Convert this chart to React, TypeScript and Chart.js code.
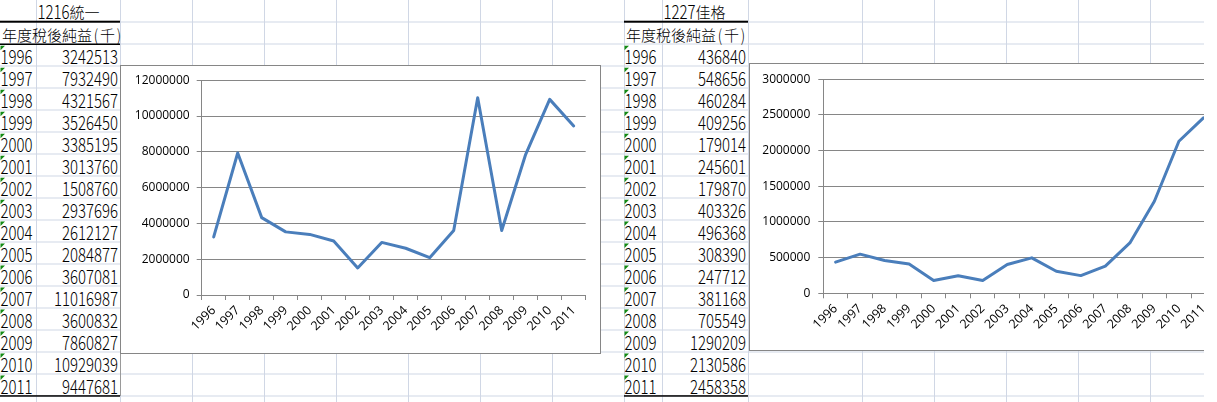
import React, { useEffect, useRef } from 'react';
import { Chart, registerables } from 'chart.js';

Chart.register(...registerables);

// ---------- data ----------
const years = ['1996', '1997', '1998', '1999', '2000', '2001', '2002', '2003', '2004', '2005', '2006', '2007', '2008', '2009', '2010', '2011'];
const uniTitle = '1216統一';
const jiaTitle = '1227佳格';
const headerLabel = '年度稅後純益(千)';
const uniValues = [3242513, 7932490, 4321567, 3526450, 3385195, 3013760, 1508760, 2937696, 2612127, 2084877, 3607081, 11016987, 3600832, 7860827, 10929039, 9447681];
const jiaValues = [436840, 548656, 460284, 409256, 179014, 245601, 179870, 403326, 496368, 308390, 247712, 381168, 705549, 1290209, 2130586, 2458358];
const uniYTicks = [0, 2000000, 4000000, 6000000, 8000000, 10000000, 12000000];
const jiaYTicks = [0, 500000, 1000000, 1500000, 2000000, 2500000, 3000000];

// ---------- layout / style ----------
const W = 1217;
const H = 402;
const GRID = '#d0d7e5';
const AXIS = '#868686';
const LINE = '#4a7ebb';
const GREEN = '#138a13';
const rowLine = (k: number) => 22.3 + 21.98 * k; // k = 0 -> bottom of title row
const colLines = [36, 120, 192, 264, 336, 408, 480, 552, 624, 662, 748, 862, 934, 1006, 1078, 1150];

function renderText(x: number, base: number, text: string, keyBase: string) {
  const els: React.ReactNode[] = [];
  let cx = x;
  const runs = text.match(/[0-9]+|[\x00-\x7f]|[^\x00-\x7f]+/g) || [];
  runs.forEach((run, i) => {
    const key = keyBase + '-' + i;
    if (/^[0-9]/.test(run)) {
      const w = 8 * run.length;
      els.push(
        <text key={key} transform={`translate(${cx},${base}) scale(1,1.36)`} x={0} y={0}
          fontFamily="Noto Sans CJK TC" fontWeight={300} fontSize={14} textLength={w} lengthAdjust="spacingAndGlyphs" fill="#000">{run}</text>
      );
      cx += w;
    } else if (/^[\x00-\x7f]/.test(run)) {
      els.push(
        <text key={key} transform={`translate(${cx + 4},${base}) scale(1,1.2)`} x={0} y={0} textAnchor="middle"
          fontFamily="Noto Sans CJK TC" fontWeight={300} fontSize={14} fill="#000">{run}</text>
      );
      cx += 8;
    } else {
      els.push(
        <text key={key} x={cx} y={base - 1} fontFamily="Noto Sans CJK TC" fontWeight={300} fontSize={15} fill="#000">{run}</text>
      );
      cx += 15 * run.length;
    }
  });
  return els;
}

function renderTable(left: number, colW: number, right: number, title: string, values: number[], headerBorder: boolean, key: string) {
  const els: React.ReactNode[] = [];
  els.push(...renderText(left + colW + 1.5, 19, title, key + 't'));
  els.push(...renderText(left + 2, 41.5, headerLabel, key + 'h'));
  els.push(<rect key={key + 'b1'} x={left} y={20.7} width={right - left} height={2} fill="#000" />);
  if (headerBorder) els.push(<rect key={key + 'b2'} x={left} y={43.5} width={right - left} height={1.5} fill="#000" />);
  els.push(<rect key={key + 'b3'} x={left} y={395.2} width={right - left} height={1.5} fill="#000" />);
  years.forEach((y, i) => {
    const top = rowLine(i + 1);
    const bottom = rowLine(i + 2);
    els.push(<polygon key={key + 'g' + i} points={`${left + 0.5},${top + 1.5} ${left + 5},${top + 1.5} ${left + 0.5},${top + 6}`} fill={GREEN} />);
    els.push(...renderText(left + 0.5, bottom - 2, y, key + 'y' + i));
    const s = String(values[i]);
    els.push(...renderText(right - 2 - 8 * s.length, bottom - 2, s, key + 'v' + i));
  });
  return els;
}

type Plot = { left: number; top: number; right: number; bottom: number };

function LineChart({ values, yTicks, w, h, plot, tickPad }: { values: number[]; yTicks: number[]; w: number; h: number; plot: Plot; tickPad: number }) {
  const ref = useRef<HTMLCanvasElement>(null);
  useEffect(() => {
    const font = { family: 'Open Sans', size: 12 };
    const xFont = { family: 'Open Sans', size: 12.5 };
    const chart = new Chart(ref.current as HTMLCanvasElement, {
      type: 'line',
      data: {
        labels: years,
        datasets: [{
          data: values,
          borderColor: LINE,
          backgroundColor: LINE,
          borderWidth: 3,
          pointRadius: 0,
          tension: 0,
          borderJoinStyle: 'round',
          borderCapStyle: 'round',
          fill: false,
        }],
      },
      options: {
        animation: false,
        responsive: false,
        maintainAspectRatio: false,
        devicePixelRatio: 1,
        layout: { padding: { left: 0, top: plot.top, right: w - plot.right, bottom: 0 } },
        plugins: { legend: { display: false }, tooltip: { enabled: false }, title: { display: false } },
        scales: {
          x: {
            offset: true,
            grid: { offset: true, drawOnChartArea: false, drawTicks: true, tickLength: 5, color: AXIS },
            border: { color: AXIS },
            ticks: { minRotation: 45, maxRotation: 45, autoSkip: false, font: xFont, color: '#000', padding: 3 },
            afterFit: (s: any) => { s.height = h - plot.bottom; },
          },
          y: {
            min: yTicks[0],
            max: yTicks[yTicks.length - 1],
            afterBuildTicks: (s: any) => { s.ticks = yTicks.map((v) => ({ value: v })); },
            ticks: { callback: (v: any) => String(v), font, color: '#000', padding: tickPad },
            grid: { color: AXIS, tickLength: 5 },
            border: { color: AXIS },
            afterFit: (s: any) => { s.width = plot.left; },
          },
        },
      } as any,
    });
    return () => chart.destroy();
  }, []);
  return <canvas ref={ref} width={w} height={h} style={{ display: 'block', width: w, height: h }} />;
}

export default function App() {
  const hLines: number[] = [];
  for (let k = 0; k < 18; k++) hLines.push(rowLine(k));
  return (
    <div style={{ position: 'fixed', left: 0, top: 0, width: W, height: H, overflow: 'hidden', background: '#fff' }}>
      <svg width={W} height={H} style={{ position: 'absolute', left: 0, top: 0 }}>
        {hLines.map((y, i) => (
          <rect key={'h' + i} x={0} y={Math.round(y) - 0.5} width={W} height={1} fill={GRID} />
        ))}
        {colLines.map((x, i) => (
          <rect key={'v' + i} x={x} y={0} width={1} height={H} fill={GRID} />
        ))}
        <rect x={120} y={353} width={1} height={43} fill="#9a9a9a" />
        {renderTable(0, 36, 120, uniTitle, uniValues, true, 'L')}
        {renderTable(624, 38, 748, jiaTitle, jiaValues, false, 'R')}
      </svg>
      <div style={{ position: 'absolute', left: 120, top: 65, width: 481, height: 289, border: `1px solid ${AXIS}`, boxSizing: 'border-box', background: '#fff' }}>
        <LineChart values={uniValues} yTicks={uniYTicks} w={479} h={287} plot={{ left: 80.7, top: 14, right: 464.7, bottom: 229 }} tickPad={7} />
      </div>
      <div style={{ position: 'absolute', left: 749, top: 63, width: 481, height: 288, border: `1px solid ${AXIS}`, boxSizing: 'border-box', background: '#fff' }}>
        <LineChart values={jiaValues} yTicks={jiaYTicks} w={479} h={286} plot={{ left: 73.3, top: 13.3, right: 465.7, bottom: 229.3 }} tickPad={8} />
      </div>
      <div style={{ position: 'absolute', left: 1204, top: 0, width: W - 1204, height: H, background: '#fff' }} />
    </div>
  );
}
